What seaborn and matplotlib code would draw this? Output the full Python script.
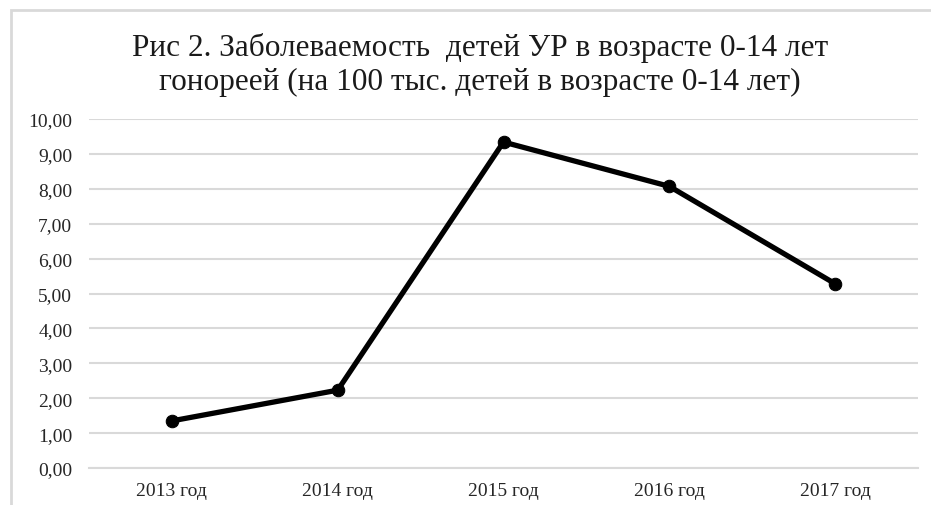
import matplotlib
matplotlib.use("Agg")
import matplotlib.pyplot as plt
import seaborn as sns
import pandas as pd
from matplotlib.patches import Rectangle
from matplotlib.ticker import FuncFormatter, MultipleLocator

categories = ["2013 год", "2014 год", "2015 год", "2016 год", "2017 год"]
values = [1.35, 2.23, 9.34, 8.07, 5.28]
title = "Рис 2. Заболеваемость  детей УР в возрасте 0-14 лет\nгонореей (на 100 тыс. детей в возрасте 0-14 лет)"

sns.set_theme(style="white")
plt.rcParams['font.family'] = ['Liberation Serif', 'DejaVu Serif']

W, H = 931, 506
fig = plt.figure(figsize=(W/100, H/100), dpi=100)
ax = fig.add_axes([89/W, 1-469/H, (918-89)/W, (469-120)/H])

df = pd.DataFrame({"cat": categories, "val": values})
sns.lineplot(data=df, x="cat", y="val", ax=ax, color="black", linewidth=3.8,
             marker="o", markersize=9, markeredgecolor="black", sort=False)

ax.set_xlim(-0.5, len(categories) - 0.5)
ax.set_ylim(0, 10)
ax.yaxis.set_major_locator(MultipleLocator(1))
ax.yaxis.set_major_formatter(FuncFormatter(lambda v, p: f"{v:.2f}".replace(".", ",")))
ax.grid(axis="y", color="#d9d9d9", linewidth=1.5)
ax.set_axisbelow(True)
for s in ["top", "right", "left"]:
    ax.spines[s].set_visible(False)
ax.spines["bottom"].set_color("#d9d9d9")
ax.spines["bottom"].set_linewidth(1.5)
ax.set_xlabel("")
ax.set_ylabel("")
ax.tick_params(axis="both", length=0, labelsize=14, colors="#262626")
ax.tick_params(axis="y", pad=12)
ax.tick_params(axis="x", pad=10)

fig.text(480/W, 1-65/H, title, ha="center", va="center", fontsize=22.5,
         color="#1a1a1a", linespacing=1.2)

fig.patches.append(Rectangle((11/W, -0.1), 1.2, 1 - 11/H + 0.1, transform=fig.transFigure,
                             fill=False, edgecolor="#d9d9d9", linewidth=2, figure=fig))

fig.savefig("out.png", dpi=100)
